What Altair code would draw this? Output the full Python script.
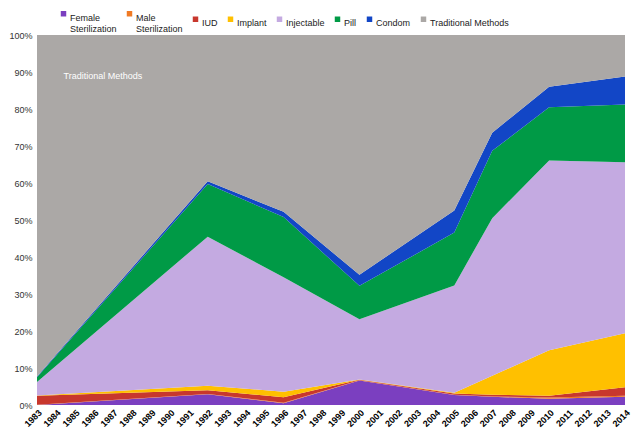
import altair as alt
import pandas as pd

years = [1983, 1992, 1996, 2000, 2005, 2007, 2010, 2014]
methods = ["Female Sterilization", "Male Sterilization", "IUD", "Implant",
           "Injectable", "Pill", "Condom", "Traditional Methods"]
colors = ["#7B3FC0", "#F07A24", "#C8372D", "#FFC000",
          "#C4AAE1", "#009A46", "#1246C6", "#ABA8A6"]

female_ster = [0.0, 2.9, 0.5, 6.6, 2.7, 2.2, 1.7, 2.2]
male_ster   = [0.1, 0.1, 0.1, 0.1, 0.1, 0.1, 0.3, 0.3]
iud         = [2.4, 1.0, 1.5, 0.1, 0.3, 0.5, 0.5, 2.3]
implant     = [0.1, 1.2, 1.5, 0.1, 0.2, 5.1, 12.3, 14.6]
injectable  = [3.6, 40.3, 30.9, 16.3, 29.0, 42.6, 51.3, 46.2]
pill        = [1.3, 14.2, 16.3, 9.0, 14.3, 18.2, 14.4, 15.6]
condom      = [0.2, 0.8, 1.4, 3.0, 6.0, 4.9, 5.5, 7.6]

series = [female_ster, male_ster, iud, implant, injectable, pill, condom]

rows = []
for i, y in enumerate(years):
    total = 0.0
    for k, s in enumerate(series):
        rows.append({"year": y, "method": methods[k], "order": k, "value": s[i] / 100})
        total += s[i]
    rows.append({"year": y, "method": methods[7], "order": 7, "value": (100 - total) / 100})
df = pd.DataFrame(rows)

tick_years = list(range(1983, 2015))
y_ticks = [i / 10 for i in range(11)]

label_expr = ("datum.label == 'Female Sterilization' ? ['Female', 'Sterilization'] : "
              "datum.label == 'Male Sterilization' ? ['Male', 'Sterilization'] : datum.label")

x_scale = alt.Scale(domain=[1983, 2014], nice=False, zero=False)
y_scale = alt.Scale(domain=[0, 1], nice=False)
x_axis = alt.Axis(values=tick_years, format="d", labelAngle=315, labelFontSize=9,
                  labelFontWeight="bold", labelColor="#000", grid=False, domain=False,
                  ticks=False, title=None, labelPadding=3, labelOverlap=False,
                  labelFont="Liberation Sans")
y_axis = alt.Axis(values=y_ticks, format=".0%", grid=False, labelOverlap=False,
                  domain=False, ticks=False, title=None, labelFontSize=9,
                  labelColor="#333", labelFont="Liberation Sans", labelPadding=5)

area = alt.Chart(df).mark_area(interpolate="linear").encode(
    x=alt.X("year:Q", scale=x_scale, axis=x_axis),
    y=alt.Y("value:Q", stack="zero", scale=y_scale, axis=y_axis),
    color=alt.Color("method:N", scale=alt.Scale(domain=methods, range=colors),
                    legend=alt.Legend(orient="none", legendX=22, legendY=-26, direction="horizontal",
                                      columns=8, title=None, symbolType="square", symbolSize=30,
                                      labelFontSize=9, labelFont="Liberation Sans", labelColor="#222",
                                      labelExpr=label_expr, columnPadding=8, symbolOffset=0,
                                      labelBaseline="top", labelOffset=2, rowPadding=0,
                                      padding=0)),
    order=alt.Order("order:Q", sort="ascending"),
)

note_df = pd.DataFrame({"year": [1984.4], "value": [0.89], "text": ["Traditional Methods"]})
note = alt.Chart(note_df).mark_text(align="left", baseline="middle", color="white", fontSize=9,
                                    font="Liberation Sans").encode(
    x=alt.X("year:Q", scale=x_scale, axis=x_axis),
    y=alt.Y("value:Q", scale=y_scale, axis=y_axis),
    text="text:N")

chart = alt.layer(area, note).properties(
    width=624, height=421,
    autosize=alt.AutoSizeParams(type="fit", contains="padding"),
    padding={"left": 0, "right": 0, "top": 23, "bottom": 0},
).configure_view(stroke=None)

chart.save("out.html", embed_options={"renderer": "svg", "actions": False})
